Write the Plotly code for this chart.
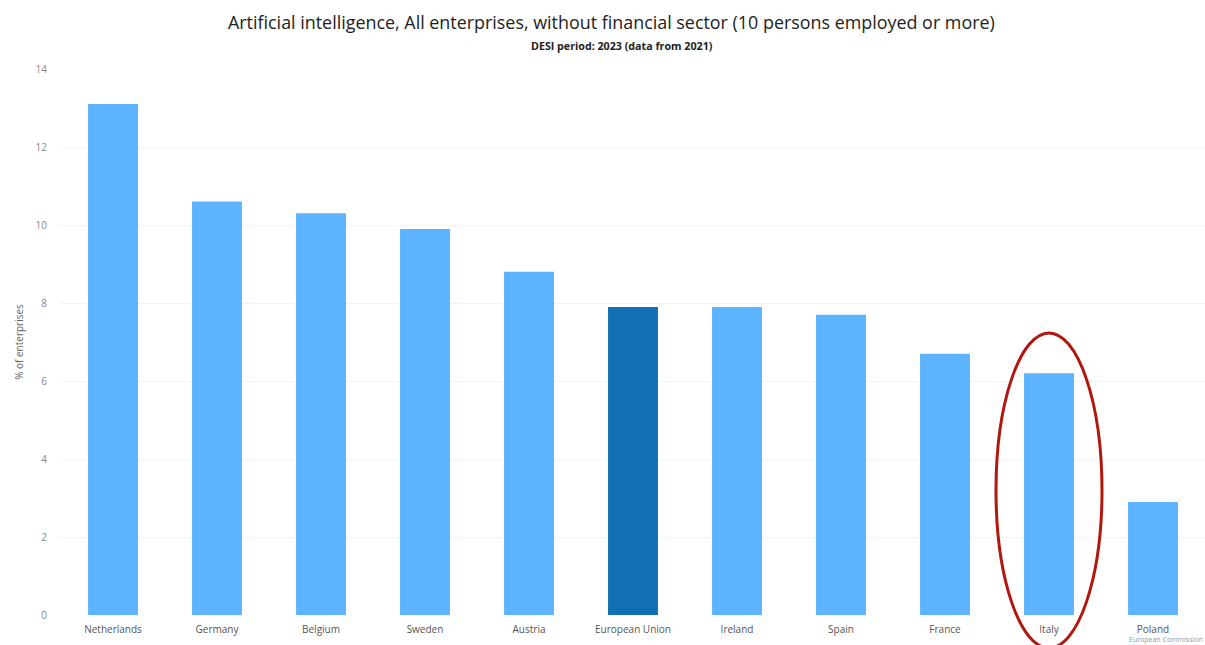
import plotly.graph_objects as go

countries = ["Netherlands", "Germany", "Belgium", "Sweden", "Austria", "European Union",
             "Ireland", "Spain", "France", "Italy", "Poland"]
ai_share = [13.1, 10.6, 10.3, 9.9, 8.8, 7.9, 7.9, 7.7, 6.7, 6.2, 2.9]
y_ticks = [0, 2, 4, 6, 8, 10, 12, 14]

TITLE = "Artificial intelligence, All enterprises, without financial sector (10 persons employed or more)"
SUBTITLE = "DESI period: 2023 (data from 2021)"

LIGHT = "#5db4fd"
DARK = "#136fb4"
colors = [DARK if c == "European Union" else LIGHT for c in countries]

W, H = 1205, 645
ML, MR, MT, MB = 61, 0, 69, 30
pw, ph = W - ML - MR, H - MT - MB


def py(pixel_y):
    """Convert a pixel row (from the top of the page) to paper y."""
    return (H - MB - pixel_y) / ph


fig = go.Figure(go.Bar(
    x=countries, y=ai_share, marker_color=colors, marker_line_width=0,
    width=0.48, hoverinfo="x+y",
))

# ellipse highlighting Italy (paper coordinates so it can spill below the axis)
n = len(countries)
idx = countries.index("Italy")
cx_px = ML + (idx + 0.5) / n * pw
x0 = (cx_px - 53 - ML) / pw
x1 = (cx_px + 53 - ML) / pw

fig.update_layout(
    width=W, height=H,
    margin=dict(l=ML, r=MR, t=MT, b=MB),
    paper_bgcolor="white", plot_bgcolor="white",
    font=dict(family="Open Sans, sans-serif", color="#555"),
    xaxis=dict(showline=False, ticks="", tickfont=dict(size=10, color="#555"), showgrid=False,
               ticklabelstandoff=7),
    yaxis=dict(range=[0, 14], tickvals=y_ticks, showgrid=True, gridcolor="#f3f3f3",
               zeroline=False, tickfont=dict(size=10, color="#888"), ticks="",
               ticklabelstandoff=13,
               title=dict(text="% of enterprises", font=dict(size=10, color="#666"), standoff=10)),
    bargap=0.52,
    showlegend=False,
    shapes=[dict(type="circle", xref="paper", yref="paper", x0=x0, x1=x1, y0=py(648), y1=py(333),
                 line=dict(color="#b0170f", width=3), layer="above")],
    annotations=[
        dict(text=TITLE, xref="paper", yref="paper", x=(611 - ML) / pw, y=py(22),
             xanchor="center", yanchor="middle", showarrow=False,
             font=dict(size=17.9, color="#222")),
        dict(text="<b>" + SUBTITLE + "</b>", xref="paper", yref="paper", x=(622 - ML) / pw, y=py(46),
             xanchor="center", yanchor="middle", showarrow=False,
             font=dict(size=10.7, color="#222")),
        dict(text="European Commission", xref="paper", yref="paper", x=1.0, y=-0.033,
             xanchor="right", yanchor="top", showarrow=False,
             font=dict(size=7, color="#8a9bb0")),
    ],
)

fig.write_html("out.html")
